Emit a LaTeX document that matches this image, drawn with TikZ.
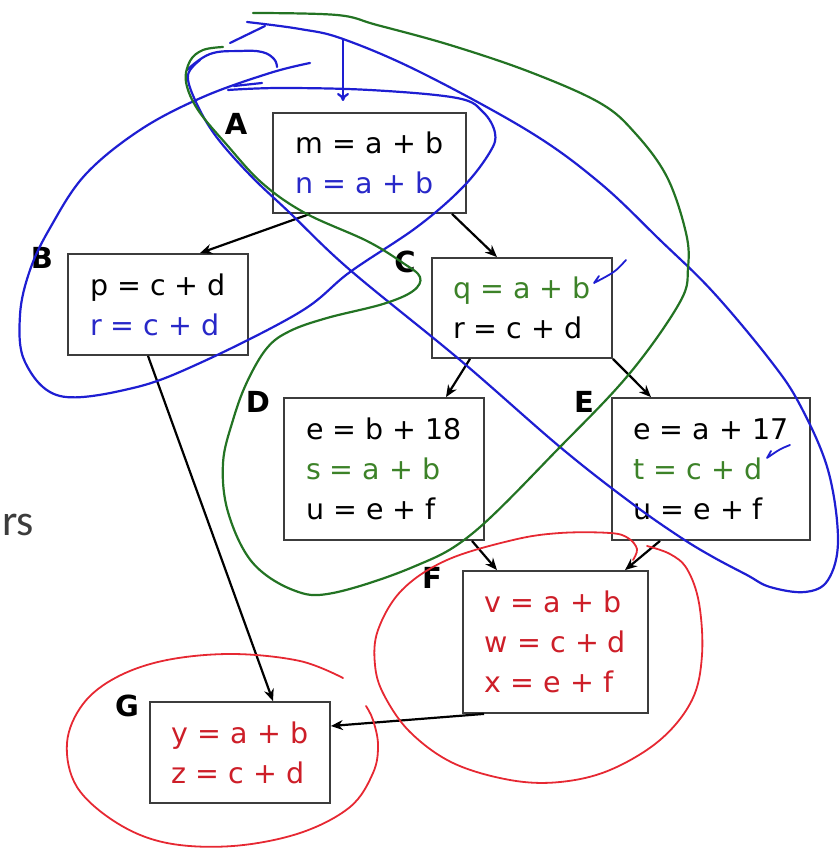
\documentclass[tikz,border=0pt]{standalone}
\usepackage{fontspec}
\setmainfont{DejaVu Sans}
\newfontfamily\slidefont{Carlito}
\usetikzlibrary{arrows.meta}

\definecolor{boxgray}{RGB}{60,60,60}
\definecolor{codeblue}{RGB}{40,40,200}
\definecolor{codegreen}{RGB}{60,130,40}
\definecolor{codered}{RGB}{205,30,40}
\definecolor{penblue}{RGB}{30,30,210}
\definecolor{pengreen}{RGB}{35,115,35}
\definecolor{penred}{RGB}{230,40,50}

\tikzset{
  box/.style={draw=boxgray, line width=1.8pt, align=left, inner sep=0pt,
    font=\fontsize{28.5}{40}\selectfont},
  lbl/.style={font=\fontsize{29}{29}\selectfont\bfseries},
  arr/.style={line width=2.2pt, -{Stealth[length=12pt,width=10pt]}},
  bluepen/.style={draw=penblue, line width=2.2pt, line cap=round, line join=round},
  greenpen/.style={draw=pengreen, line width=2.2pt, line cap=round, line join=round},
  redpen/.style={draw=penred, line width=1.8pt, line cap=round, line join=round}
}

\begin{document}
\begin{tikzpicture}[x=1pt,y=-1pt]
  \useasboundingbox (0,0) rectangle (839,848);

  % blocks
  \node[box, minimum width=193pt, minimum height=100pt] (A) at (369.5,163)
    {m = a + b\\\textcolor{codeblue}{n = a + b}};
  \node[box, minimum width=180pt, minimum height=101pt] (B) at (158,304.5)
    {p = c + d\\\textcolor{codeblue}{r = c + d}};
  \node[box, minimum width=180pt, minimum height=100pt] (C) at (522,308)
    {\textcolor{codegreen}{q = a + b}\\r = c + d};
  \node[box, minimum width=200pt, minimum height=142pt] (D) at (384,469)
    {e = b + 18\\\textcolor{codegreen}{s = a + b}\\u = e + f};
  \node[box, minimum width=198pt, minimum height=142pt] (E) at (711,469)
    {e = a + 17\\\textcolor{codegreen}{t = c + d}\\u = e + f};
  \node[box, minimum width=185pt, minimum height=142pt, text=codered] (F) at (555.5,642)
    {v = a + b\\w = c + d\\x = e + f};
  \node[box, minimum width=180pt, minimum height=101pt, text=codered] (G) at (240,752.5)
    {y = a + b\\z = c + d};

  \node[lbl] (lA) at (236,124) {A};
  \node[lbl] (lB) at (42,258) {B};
  \node[lbl] (lC) at (405,262) {C};
  \node[lbl] (lD) at (258,402) {D};
  \node[lbl] (lE) at (584,402) {E};
  \node[lbl] (lF) at (432,578) {F};
  \node[lbl] (lG) at (127,706) {G};

  \node[anchor=base east, inner sep=0pt, text=boxgray,
    font=\slidefont\fontsize{44}{44}\selectfont] (rs) at (34,535) {rs};

  % edges
  \draw[arr] ([xshift=-59.5pt]A.south) -- ([xshift=42pt]B.north);
  \draw[arr] ([xshift=82.5pt]A.south) -- ([xshift=-25pt]C.north);
  \draw[arr] ([xshift=-52pt]C.south) -- ([xshift=62pt]D.north);
  \draw[arr] (C.south east) -- ([xshift=-60pt]E.north);
  \draw[arr] ([xshift=88pt]D.south) -- ([xshift=-58.5pt]F.north);
  \draw[arr] ([xshift=-51pt]E.south) -- ([xshift=69.5pt]F.north);
  \draw[arr] ([xshift=-10pt]B.south) -- ([xshift=33pt]G.north);
  \draw[arr] ([xshift=-71.5pt]F.south) -- ([yshift=26.5pt]G.east);

  % pen marks
  \draw[bluepen] plot[smooth, tension=0.6] coordinates {(310,63) (270,73) (203,97)
    (140,130) (85,175) (50,228) (30,270) (20,315) (25,362) (60,396) (133,388)
    (200,363) (300,312) (350,272) (417,227) (463,187) (490,152) (495,133) (483,112)
    (457,98) (370,90) (280,88) (228,90)};
  \draw[bluepen] (234,86) -- (262,83);
  \draw[bluepen] plot[smooth, tension=0.6] coordinates {(247,22) (300,29) (343,39)
    (420,72) (530,132) (600,183) (660,240) (713,292) (770,360) (800,405) (828,470)
    (838,540) (828,580) (805,592) (770,587) (747,575) (713,557) (680,537) (630,502)
    (560,447) (460,360) (350,270) (290,213) (250,175) (215,135) (195,100) (188,75)
    (200,60)};
  \draw[bluepen] plot[smooth, tension=0.7] coordinates {(187,70) (210,54) (240,51)
    (262,52) (274,59) (277,67)};
  \draw[bluepen] (230,43) -- (265,26);
  \draw[bluepen, -{To[length=8pt,width=12pt]}] (343,40) -- (343,101);
  \draw[bluepen, line width=1.8pt] (626,260) .. controls (615,272) .. (594,283) -- (599,276);
  \draw[bluepen, line width=1.8pt] (790,445) .. controls (780,449) .. (767,458) -- (771,451);

  \draw[greenpen] plot[smooth, tension=0.6] coordinates {(253,13) (337,15) (377,25)
    (450,45) (530,72) (600,103) (635,133) (667,177) (686,233) (688,268) (680,302)
    (630,373) (560,447) (473,533) (413,567) (333,593) (293,590) (252,562) (228,512)
    (223,463) (233,420) (247,382) (267,348) (290,331) (327,318) (383,304) (413,291)
    (420,277) (403,263) (367,241) (305,213) (262,183) (227,145) (198,110) (186,82)
    (190,61) (203,50) (223,47)};

  \draw[redpen] plot[smooth, tension=0.6] coordinates {(633,560) (637,549) (628,538)
    (610,533) (560,533) (513,540) (447,560) (402,590) (378,630) (375,665) (384,695)
    (410,732) (453,763) (510,780) (560,782) (610,770) (660,740) (692,700) (702,655)
    (699,603) (687,569) (670,554) (647,546)};
  \draw[redpen] plot[smooth, tension=0.6] coordinates {(343,678) (300,661) (233,654)
    (167,660) (117,677) (83,704) (67,743) (77,787) (117,823) (167,843) (233,846)
    (300,833) (350,807) (373,773) (378,745) (373,720) (366,706)};
\end{tikzpicture}
\end{document}
